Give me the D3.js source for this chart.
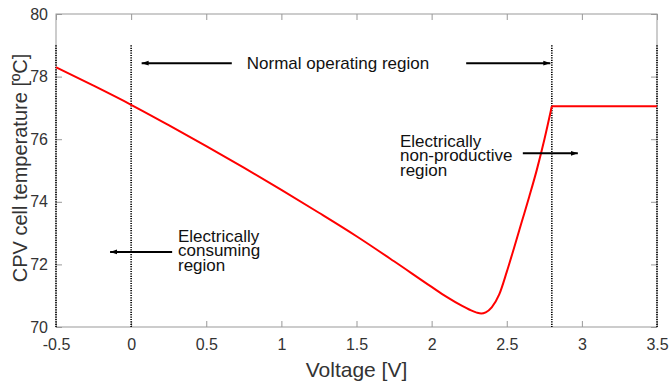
<!DOCTYPE html>
<html><head><meta charset="utf-8">
<script src="https://cdn.jsdelivr.net/npm/d3@7"></script>
<style>body{margin:0;background:#fff}svg{display:block}text{font-family:"Liberation Sans",Arial,sans-serif}</style>
</head><body><svg id="c" width="671" height="384"></svg>
<script>
const voltage = [-0.5,-0.25,0,0.25,0.5,0.75,1.0,1.25,1.5,1.75,2.0,2.1,2.2,2.25,2.3,2.33,2.36,2.4,2.45,2.5,2.55,2.6,2.65,2.7,2.75,2.8];
const temperature = [78.30,77.71,77.10,76.45,75.78,75.09,74.38,73.65,72.90,72.10,71.28,70.96,70.68,70.56,70.46,70.43,70.47,70.63,71.04,71.76,72.55,73.36,74.17,75.02,75.98,77.05];
const plateauV = [2.8,3.5];
const plateauT = [77.05,77.05];
const xTicks = [-0.5,0,0.5,1,1.5,2,2.5,3,3.5];
const yTicks = [70,72,74,76,78,80];
const regionLines = [-0.5,0,2.8,3.5];

const svg = d3.select("#c");
const m = {l:56,r:14,t:14,b:57};
const W = 671, H = 384;
const x = d3.scaleLinear().domain([-0.5,3.5]).range([m.l, W-m.r]);
const y = d3.scaleLinear().domain([70,80]).range([H-m.b, m.t]);
const gray = "#999", tc = "#333";

svg.append("rect").attr("x",x(-0.5)).attr("y",y(80)).attr("width",x(3.5)-x(-0.5)).attr("height",y(70)-y(80))
  .attr("fill","none").attr("stroke",gray).attr("stroke-width",1);

const fmt = d => String(d);
const ax = svg.append("g").attr("transform",`translate(0,${y(70)})`).call(d3.axisBottom(x).tickValues(xTicks).tickSizeInner(-6).tickSizeOuter(0).tickPadding(12).tickFormat(fmt));
const axT = svg.append("g").attr("transform",`translate(0,${y(80)})`).call(d3.axisTop(x).tickValues(xTicks).tickSizeInner(-6).tickSizeOuter(0).tickFormat(""));
const ay = svg.append("g").attr("transform",`translate(${x(-0.5)},0)`).call(d3.axisLeft(y).tickValues(yTicks).tickSizeInner(-6).tickSizeOuter(0).tickPadding(8).tickFormat(fmt));
const ayR = svg.append("g").attr("transform",`translate(${x(3.5)},0)`).call(d3.axisRight(y).tickValues(yTicks).tickSizeInner(-6).tickSizeOuter(0).tickFormat(""));
[ax,axT,ay,ayR].forEach(g=>{g.select(".domain").remove();g.selectAll("line").attr("stroke",gray);g.selectAll("text").attr("fill",tc).style("font-size","16px").style("font-family","'Liberation Sans',Arial,sans-serif");});

svg.selectAll(".rl").data(regionLines).join("line").attr("class","rl")
  .attr("x1",d=>x(d)).attr("x2",d=>x(d)).attr("y1",y(79)).attr("y2",y(70))
  .attr("stroke","#000").attr("stroke-width",1.6).attr("stroke-dasharray","1.2,1.2");

const pts = voltage.map((v,i)=>[v,temperature[i]]);
svg.append("path").datum(pts).attr("fill","none").attr("stroke","#f00").attr("stroke-width",2)
  .attr("d",d3.line().x(d=>x(d[0])).y(d=>y(d[1])).curve(d3.curveMonotoneX));
svg.append("path").datum(plateauV.map((v,i)=>[v,plateauT[i]])).attr("fill","none").attr("stroke","#f00").attr("stroke-width",2)
  .attr("d",d3.line().x(d=>x(d[0])).y(d=>y(d[1])));

svg.append("defs").append("marker").attr("id","ah").attr("viewBox","0 0 10 10").attr("refX",10).attr("refY",5)
  .attr("markerWidth",7).attr("markerHeight",7).attr("markerUnits","userSpaceOnUse").attr("orient","auto")
  .append("path").attr("d","M0,1.5L10,5L0,8.5Z").attr("fill","#000");
function arrow(v1,v2,t){svg.append("line").attr("x1",x(v1)).attr("x2",x(v2)).attr("y1",y(t)).attr("y2",y(t)).attr("stroke","#000").attr("stroke-width",2).attr("marker-end","url(#ah)");}
arrow(0.67,0.07,78.43);
arrow(2.23,2.79,78.43);
arrow(2.607,2.973,75.55);
arrow(0.273,-0.14,72.4);

function label(lines,xx,y0,anchor,dy){
  const t=svg.append("text").attr("x",xx).attr("y",y0).attr("fill","#111").style("font-size","17px").attr("text-anchor",anchor);
  lines.forEach((s,i)=>t.append("tspan").attr("x",xx).attr("dy",i?dy:0).text(s));
}
label(["Normal operating region"],338,69,"middle",0);
label(["Electrically","non-productive","region"],400,147,"start",14.3);
label(["Electrically","consuming","region"],178,242,"start",14.3);

svg.append("text").attr("x",(x(-0.5)+x(3.5))/2).attr("y",377).attr("text-anchor","middle").attr("fill",tc).style("font-size","21px").text("Voltage [V]");
svg.append("text").attr("transform",`translate(27,168) rotate(-90)`).attr("text-anchor","middle").attr("fill",tc).style("font-size","20px").text("CPV cell temperature [ºC]");
</script></body></html>
